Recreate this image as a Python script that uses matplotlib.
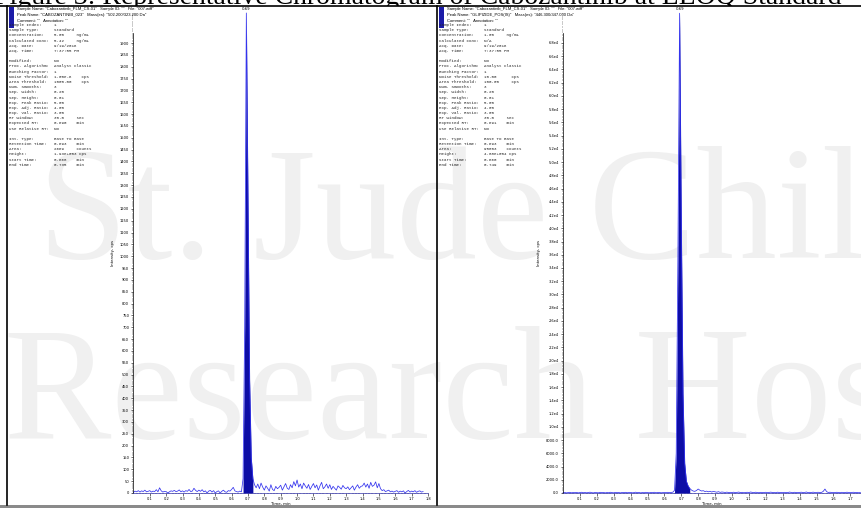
import matplotlib
matplotlib.use("Agg")
import matplotlib.pyplot as plt
import numpy as np
from matplotlib.patches import Rectangle
from matplotlib.lines import Line2D
from matplotlib.transforms import Bbox, TransformedBbox
from matplotlib.ticker import FuncFormatter, MultipleLocator

# ---- data ----
left_intensity = [
    3, 8, 5, 10, 4, 9, 6, 12, 5, 7,
    10, 4, 8, 6, 14, 5, 22, 9, 4, 7,
    6, 0, 5, 9, 7, 11, 6, 8, 13, 5,
    9, 4, 10, 7, 15, 6, 8, 20, 11, 6,
    12, 7, 14, 5, 9, 0, 8, 11, 4, 10,
    0, 6, 9, 0, 7, 12, 5, 3, 10, 8,
    15, 24, 9, 6, 4, 8,
    5, 60, 700, 2027, 1250, 480, 150, 60, 35,
    22, 38, 18, 42, 25,
    12, 30, 20, 8, 35, 15, 10, 28, 18, 24,
    33, 12, 26, 40, 20, 15, 35, 22, 48, 30,
    55, 25, 38, 18, 42, 30, 20, 36, 15, 28,
    40, 22, 34, 12, 30, 45, 18, 26, 38, 20,
    35, 15, 28, 20, 12, 30, 24, 16, 32, 22,
    18, 26, 14, 22, 30, 12, 25, 35, 20, 28,
    30, 42, 25, 38, 20, 45, 28, 33, 47, 22,
    40, 18, 10, 14, 6, 9, 12, 5, 8, 4,
    7, 10, 3, 8, 5, 9, 0, 6, 11, 4,
    8, 5, 10, 3, 7, 9, 4, 6,
]
right_intensity = [
    40, 80, 20, 60, 100, 30, 70, 50, 90, 20,
    60, 110, 40, 80, 30, 70, 120, 50, 20, 90,
    50, 30, 100, 60, 80, 20, 70, 40, 110, 60,
    30, 90, 50, 70, 20, 80, 60, 100, 40, 70,
    90, 30, 60, 120, 50, 80, 20, 70, 40, 100,
    60, 30, 80, 50, 110, 40, 70, 90, 30, 60,
    80, 50, 100, 60, 90, 120,
    400, 6000, 36000, 72500, 41000, 15000, 4500, 1800, 1100, 700,
    450, 300, 250, 380,
    600, 420, 300, 350, 220, 280, 180, 260, 150, 240,
    180, 120, 200, 90, 150, 110, 80, 130, 60, 100,
    70, 120, 50, 90, 140, 60, 100, 40, 80, 110,
    60, 150, 90, 50, 120, 70, 40, 100, 80, 60,
    110, 50, 90, 130, 60, 80, 40, 120, 70, 90,
    50, 100, 80, 60, 140, 90, 40, 110, 70, 50,
    90, 120, 60, 80, 150, 50, 100, 70, 130, 60,
    80, 110, 60, 90, 250, 600, 200, 80, 120, 60,
    90, 50, 110, 70, 40, 100, 80, 60, 120, 70,
    50, 90, 110, 60, 80, 40, 70,
]
scan_step = 0.01  # min between points
left_time = np.arange(len(left_intensity)) * scan_step
right_time = np.arange(len(right_intensity)) * scan_step

left_peak = {"rt": "0.69", "start": 0.668, "end": 0.735}
right_peak = {"rt": "0.69", "start": 0.660, "end": 0.749}

left_header = [
    'Sample Name: "Cabozantinib_PLM_CS-01"   Sample ID: ""   File: "007.wiff"',
    'Peak Name: "CABOZANTINIB_023"   Mass(es): "502.200/323.200 Da"',
    'Comment: ""   Annotation: ""',
]
right_header = [
    'Sample Name: "Cabozantinib_PLM_CS-01"   Sample ID: ""   File: "007.wiff"',
    'Peak Name: "GLIPIZIDE_POS(IS)"   Mass(es): "446.300/347.000 Da"',
    'Comment: ""   Annotation: ""',
]
left_info = [
    ("Sample Index:", "1"), ("Sample Type:", "Standard"),
    ("Concentration:", "5.00     ng/mL"), ("Calculated Conc:", "5.42     ng/mL"),
    ("Acq. Date:", "9/19/2016"), ("Acq. Time:", "7:37:55 PM"), ("", ""),
    ("Modified:", "No"), ("Proc. Algorithm:", "Analyst Classic"),
    ("Bunching Factor:", "1"), ("Noise Threshold:", "1.00e-6    cps"),
    ("Area Threshold:", "1000.00    cps"), ("Num. Smooths:", "3"),
    ("Sep. Width:", "0.20"), ("Sep. Height:", "0.01"),
    ("Exp. Peak Ratio:", "5.00"), ("Exp. Adj. Ratio:", "4.00"),
    ("Exp. Val. Ratio:", "3.00"), ("RT Window:", "30.0     sec"),
    ("Expected RT:", "0.690    min"), ("Use Relative RT:", "No"), ("", ""),
    ("Int. Type:", "Base To Base"), ("Retention Time:", "0.693    min"),
    ("Area:", "2669     counts"), ("Height:", "1.93e+003 cps"),
    ("Start Time:", "0.668    min"), ("End Time:", "0.735    min"),
]
right_info = [
    ("Sample Index:", "1"), ("Sample Type:", "Standard"),
    ("Concentration:", "1.00     ng/mL"), ("Calculated Conc:", "N/A"),
    ("Acq. Date:", "9/19/2016"), ("Acq. Time:", "7:37:55 PM"), ("", ""),
    ("Modified:", "No"), ("Proc. Algorithm:", "Analyst Classic"),
    ("Bunching Factor:", "1"), ("Noise Threshold:", "10.00      cps"),
    ("Area Threshold:", "100.00     cps"), ("Num. Smooths:", "3"),
    ("Sep. Width:", "0.20"), ("Sep. Height:", "0.01"),
    ("Exp. Peak Ratio:", "5.00"), ("Exp. Adj. Ratio:", "4.00"),
    ("Exp. Val. Ratio:", "3.00"), ("RT Window:", "30.0     sec"),
    ("Expected RT:", "0.691    min"), ("Use Relative RT:", "No"), ("", ""),
    ("Int. Type:", "Base To Base"), ("Retention Time:", "0.693    min"),
    ("Area:", "95803    counts"), ("Height:", "4.88e+004 cps"),
    ("Start Time:", "0.660    min"), ("End Time:", "0.749    min"),
]
left_yticks = np.arange(0, 1901, 50)
right_yticks = np.arange(0, 68001, 2000)
left_xticks = [0.1, 0.2, 0.3, 0.4, 0.5, 0.6, 0.7, 0.8, 0.9, 1.0,
               1.1, 1.2, 1.3, 1.4, 1.5, 1.6, 1.7, 1.8]
right_xticks = left_xticks[:-1]

title = "Figure 3: Representative Chromatogram of Cabozantinib at LLOQ Standard"

W, H = 861, 508
fig = plt.figure(figsize=(W / 100, H / 100), dpi=100)
fig.patch.set_facecolor("white")


def fx(x):
    return x / W


def fy(y):
    return 1 - y / H


# faint page watermark, kept behind everything
wm = dict(family="Liberation Serif", color="#f0f0f0", fontsize=116, zorder=-10)
fig.text(fx(38), fy(258), "St. Jude Children's", va="baseline", **wm)
fig.text(fx(4), fy(438), "Research Hospital", va="baseline", **wm)

# title, cut by the page top and by the rule below it
ttl = fig.text(fx(-6), fy(3.5), title, family="Liberation Serif", fontsize=20,
               va="baseline", ha="left", color="black")
ttl.set_clip_box(TransformedBbox(Bbox([[0, fy(5.8)], [1, 1]]), fig.transFigure))
ttl.set_clip_on(True)
fig.add_artist(Line2D([0, 1], [fy(5.8), fy(5.8)], color="black", lw=1.2))
fig.add_artist(Rectangle((0, 0), 1, fy(505), color="#8a8a8a", lw=0))


def panel(x0, header, info, time, inten, peak, yticks, xticks, ylim, spine_top,
          ax_left, ax_right, px_per_min, yfmt):
    # border and blue tag
    fig.add_artist(Line2D([fx(x0), fx(x0)], [fy(6), fy(505)], color="black", lw=1.2))
    fig.add_artist(Rectangle((fx(x0 + 1.5), fy(28)), 5 / W, 21 / H,
                             facecolor="#1c1ca8", edgecolor="none"))
    for i, line in enumerate(header):
        fig.text(fx(x0 + 10), fy(9 + 6 * i), line, fontsize=3.0,
                 family="Liberation Sans", va="center")
    for i, (lab, val) in enumerate(info):
        fig.text(fx(x0 + 2), fy(25 + 5.18 * i), f"{lab:<18}{val}",
                 fontsize=3.0, family="Liberation Mono", va="center",
                 color="#222222")

    ax = fig.add_axes([fx(ax_left), fy(493), fx(ax_right - ax_left), (493 - 13) / H])
    ax.patch.set_alpha(0)
    ax.plot(time, inten, color="#3333ee", lw=0.55, clip_on=False)
    t = np.asarray(time)
    y = np.asarray(inten)
    mask = (t >= peak["start"] - 0.006) & (t <= peak["end"] + 0.001)
    ax.fill_between(t, 0, y, where=mask, color="#0d0da6", lw=0)
    ax.set_xlim(0, (ax_right - ax_left) / px_per_min)
    ax.set_ylim(*ylim)
    ipk = int(np.argmax(y))
    ax.annotate(peak["rt"], xy=(t[ipk], y[ipk]), xytext=(0, 1.5),
                textcoords="offset points", ha="center", va="bottom",
                fontsize=2.8, annotation_clip=False)

    for s in ("top", "right"):
        ax.spines[s].set_visible(False)
    ax.spines["left"].set_bounds(0, spine_top)
    ax.spines["left"].set_linewidth(0.5)
    ax.spines["bottom"].set_linewidth(0.5)
    ax.spines["bottom"].set_color("#3333aa")
    ax.set_yticks(yticks)
    ax.yaxis.set_major_formatter(FuncFormatter(yfmt))
    ax.yaxis.set_minor_locator(MultipleLocator(yticks[1] / 5))
    ax.set_xticks(xticks)
    ax.set_xticklabels([f"{v:.1f}" for v in xticks])
    ax.xaxis.set_minor_locator(MultipleLocator(0.02))
    ax.tick_params(which="major", labelsize=2.6, length=1.8, width=0.4, pad=1.2)
    ax.tick_params(which="minor", length=0.9, width=0.3)
    ax.set_xlabel("Time, min", fontsize=2.8, labelpad=0.6)
    ax.set_ylabel("Intensity, cps", fontsize=2.8, labelpad=3.5)
    return ax


def left_fmt(v, _):
    return f"{v:.0f}"


def right_fmt(v, _):
    if v >= 10000:
        return f"{v / 1e4:.1f}e4"
    return f"{v:.1f}"


panel(7, left_header, left_info, left_time, left_intensity, left_peak,
      left_yticks, left_xticks, (0, 2027), 1942, 133.4, 428, 166, left_fmt)
panel(437, right_header, right_info, right_time, right_intensity, right_peak,
      right_yticks, right_xticks, (0, 72533), 69500, 563, 861, 169, right_fmt)

fig.savefig("out.png", dpi=100)
